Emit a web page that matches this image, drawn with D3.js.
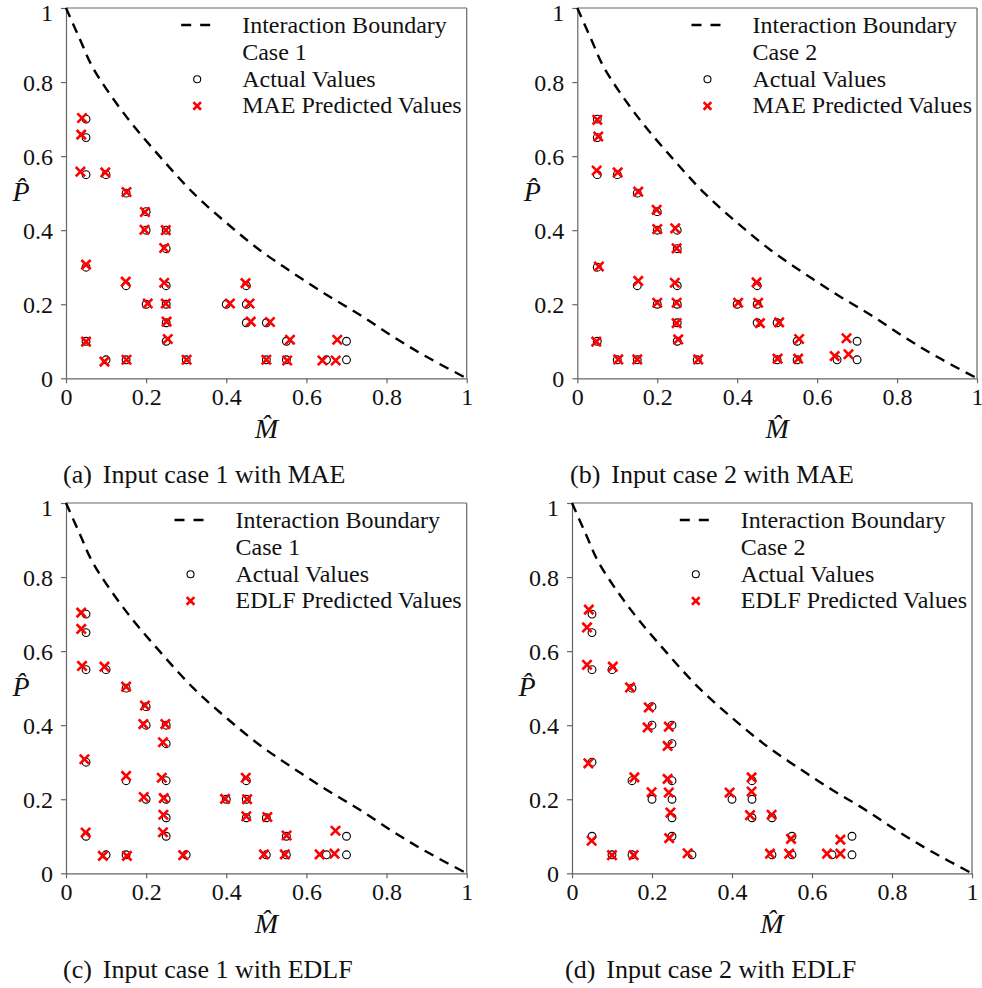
<!DOCTYPE html>
<html>
<head>
<meta charset="utf-8">
<script src="https://cdn.jsdelivr.net/npm/d3@7"></script>
<style>
  html, body { margin: 0; padding: 0; background: #fff; }
  svg { display: block; }
  svg text { font-family: "Liberation Serif", "Times New Roman", Times, serif !important; fill: #111; }
</style>
</head>
<body>
<svg id="chart" width="982" height="988"></svg>
<script>
// ---------------- data ----------------
const xTicks = [0, 0.2, 0.4, 0.6, 0.8, 1];
const yTicks = [0, 0.2, 0.4, 0.6, 0.8, 1];
const xTickLabels = ["0", "0.2", "0.4", "0.6", "0.8", "1"];
const yTickLabels = ["0", "0.2", "0.4", "0.6", "0.8", "1"];

// interaction boundary
const boundaryM = [0, 0.035, 0.068, 0.151, 0.235, 0.318, 0.401, 0.484, 0.567, 0.651, 0.734, 0.817, 0.900, 1];
const boundaryP = [1, 0.915, 0.837, 0.706, 0.598, 0.500, 0.419, 0.346, 0.284, 0.225, 0.171, 0.112, 0.058, 0];

// actual values (same for both input cases)
const actualM = [0.05,0.05,0.05,0.10,0.15,0.20,0.20,0.25,0.25,0.05,0.15,0.25,0.45,0.20,0.25,0.40,0.45,0.25,0.45,0.50,0.05,0.25,0.55,0.70,0.10,0.15,0.30,0.50,0.55,0.65,0.70];
const actualP = [0.70,0.65,0.55,0.55,0.50,0.45,0.40,0.40,0.35,0.30,0.25,0.25,0.25,0.20,0.20,0.20,0.20,0.15,0.15,0.15,0.10,0.10,0.10,0.10,0.05,0.05,0.05,0.05,0.05,0.05,0.05];

// (a) case 1, MAE predicted
const maeCase1M = [0.040,0.038,0.036,0.098,0.151,0.197,0.196,0.249,0.245,0.050,0.149,0.245,0.448,0.204,0.249,0.409,0.458,0.251,0.461,0.509,0.050,0.254,0.559,0.677,0.096,0.151,0.301,0.500,0.552,0.640,0.673];
const maeCase1P = [0.703,0.658,0.558,0.556,0.503,0.449,0.401,0.400,0.352,0.307,0.261,0.258,0.257,0.202,0.202,0.202,0.202,0.153,0.153,0.152,0.099,0.106,0.104,0.104,0.045,0.050,0.050,0.050,0.048,0.048,0.048];

// (b) case 2, MAE predicted
const maeCase2M = [0.050,0.0525,0.0485,0.101,0.1525,0.1985,0.200,0.245,0.2485,0.054,0.1525,0.244,0.4485,0.200,0.2485,0.4025,0.4525,0.2485,0.457,0.505,0.0475,0.2525,0.555,0.6735,0.1025,0.150,0.3025,0.501,0.5525,0.644,0.6785];
const maeCase2P = [0.698,0.653,0.561,0.556,0.504,0.455,0.403,0.405,0.351,0.302,0.263,0.258,0.259,0.204,0.204,0.204,0.204,0.149,0.149,0.151,0.099,0.105,0.106,0.108,0.051,0.051,0.051,0.053,0.053,0.060,0.065];

// (c) case 1, EDLF predicted
const edlfCase1M = [0.038,0.038,0.040,0.096,0.150,0.197,0.193,0.248,0.242,0.046,0.150,0.239,0.4485,0.194,0.244,0.397,0.452,0.243,0.450,0.5025,0.049,0.242,0.5505,0.6725,0.092,0.152,0.2925,0.494,0.546,0.633,0.670];
const edlfCase1P = [0.704,0.660,0.560,0.558,0.504,0.453,0.403,0.403,0.354,0.308,0.263,0.258,0.258,0.206,0.203,0.201,0.200,0.158,0.154,0.152,0.110,0.111,0.102,0.115,0.047,0.047,0.049,0.051,0.051,0.051,0.053];

// (d) case 2, EDLF predicted
const edlfCase2M = [0.042,0.0375,0.0375,0.102,0.145,0.192,0.189,0.242,0.239,0.041,0.156,0.239,0.449,0.199,0.242,0.394,0.449,0.246,0.445,0.499,0.049,0.243,0.5475,0.671,0.100,0.154,0.289,0.495,0.543,0.6375,0.671];
const edlfCase2P = [0.712,0.664,0.563,0.558,0.502,0.448,0.394,0.396,0.344,0.297,0.259,0.255,0.259,0.219,0.218,0.218,0.221,0.164,0.157,0.158,0.088,0.095,0.093,0.091,0.049,0.049,0.054,0.053,0.053,0.053,0.053];

const legendBoundary = "Interaction Boundary";
const legendActual = "Actual Values";
const caseLabels = ["Case 1", "Case 2", "Case 1", "Case 2"];
const predLabels = ["MAE Predicted Values", "MAE Predicted Values", "EDLF Predicted Values", "EDLF Predicted Values"];
const captionTags = ["(a)", "(b)", "(c)", "(d)"];
const captionTexts = ["Input case 1 with MAE", "Input case 2 with MAE", "Input case 1 with EDLF", "Input case 2 with EDLF"];
const xLabel = "M\u0302";
const yLabel = "P\u0302";
const predM = [maeCase1M, maeCase2M, edlfCase1M, edlfCase2M];
const predP = [maeCase1P, maeCase2P, edlfCase1P, edlfCase2P];

// ---------------- layout ----------------
const panels = [
  { x: [66, 466.7], y: [378.3, 8],   capX: 63,  capY: 483 },
  { x: [577.3, 977], y: [378.3, 8],  capX: 570, capY: 483 },
  { x: [66, 466.7], y: [873.3, 503], capX: 63,  capY: 978 },
  { x: [572, 972], y: [873.3, 503],  capX: 565, capY: 978 }
];

const FONT = "'Liberation Serif', 'Times New Roman', Times, serif";
const svg = d3.select("#chart");
const axisColor = "#666";

panels.forEach((p, i) => {
  const xs = d3.scaleLinear().domain([0, 1]).range(p.x);
  const ys = d3.scaleLinear().domain([0, 1]).range(p.y);
  const g = svg.append("g");

  // frame (top & right)
  g.append("line").attr("x1", p.x[0]).attr("x2", p.x[1]).attr("y1", p.y[1]).attr("y2", p.y[1])
    .attr("stroke", axisColor).attr("stroke-width", 1.2);
  g.append("line").attr("x1", p.x[1]).attr("x2", p.x[1]).attr("y1", p.y[0]).attr("y2", p.y[1])
    .attr("stroke", axisColor).attr("stroke-width", 1.2);

  // axes
  const xAxis = d3.axisBottom(xs).tickValues(xTicks).tickFormat((d, k) => xTickLabels[k]).tickSizeInner(5).tickSizeOuter(0).tickPadding(4);
  const yAxis = d3.axisLeft(ys).tickValues(yTicks).tickFormat((d, k) => yTickLabels[k]).tickSizeInner(5).tickSizeOuter(0).tickPadding(8);
  const gx = g.append("g").attr("transform", `translate(0,${p.y[0]})`).call(xAxis);
  const gy = g.append("g").attr("transform", `translate(${p.x[0]},0)`).call(yAxis);
  [gx, gy].forEach(a => {
    a.attr("font-family", FONT).attr("font-size", 24);
    a.select(".domain").attr("stroke", axisColor).attr("stroke-width", 1.2);
    a.selectAll(".tick line").attr("stroke", axisColor).attr("stroke-width", 1.2);
    a.selectAll(".tick text").style("font-family", FONT).style("font-size", "24px").attr("fill", "#111");
  });
  gx.selectAll(".tick text").attr("dy", "0.74em");
  gy.selectAll(".tick text").attr("dy", (d) => d === 1 ? "0.52em" : "0.36em");

  // boundary
  const line = d3.line().x((d, k) => xs(boundaryM[k])).y((d, k) => ys(boundaryP[k])).curve(d3.curveCatmullRom.alpha(0.5));
  g.append("path").datum(boundaryM).attr("d", line)
    .attr("fill", "none").attr("stroke", "#000").attr("stroke-width", 2.4)
    .attr("stroke-dasharray", "10,7");

  // actual values
  g.append("g").selectAll("circle").data(actualM).join("circle")
    .attr("cx", (d, k) => xs(actualM[k])).attr("cy", (d, k) => ys(actualP[k]))
    .attr("r", 3.9).attr("fill", "none").attr("stroke", "#000").attr("stroke-width", 1.1);

  // predicted values
  const xSym = d3.symbol(d3.symbolX).size(58);
  g.append("g").selectAll("path").data(predM[i]).join("path")
    .attr("transform", (d, k) => `translate(${xs(predM[i][k])},${ys(predP[i][k])})`)
    .attr("d", xSym).attr("fill", "none").attr("stroke", "#ff0000").attr("stroke-width", 2.6);

  // legend
  const top = p.y[1];
  const lg = g.append("g");
  const labels = [legendBoundary, caseLabels[i], legendActual, predLabels[i]];
  const rowY = [25, 52, 78.7, 105.4];
  const texts = lg.selectAll("text").data(labels).join("text")
    .attr("y", (d, k) => top + rowY[k]).style("font-family", FONT).style("font-size", "24px").text(d => d);
  let maxW = 0;
  texts.each(function () { maxW = Math.max(maxW, this.getComputedTextLength()); });
  const tx = p.x[1] - 5 - maxW;
  texts.attr("x", tx);
  lg.append("line").attr("x1", tx - 61).attr("x2", tx - 32).attr("y1", top + rowY[0] - 8).attr("y2", top + rowY[0] - 8)
    .attr("stroke", "#000").attr("stroke-width", 2.4).attr("stroke-dasharray", "10,9");
  lg.append("circle").attr("cx", tx - 45).attr("cy", top + rowY[2] - 7.5).attr("r", 3.5)
    .attr("fill", "none").attr("stroke", "#000").attr("stroke-width", 1.1);
  lg.append("path").attr("transform", `translate(${tx - 45},${top + rowY[3] - 7.5})`).attr("d", d3.symbol(d3.symbolX).size(40))
    .attr("fill", "none").attr("stroke", "#ff0000").attr("stroke-width", 2.6);

  // axis labels (M-hat, P-hat)
  const mx = (p.x[0] + p.x[1]) / 2;
  g.append("text").attr("x", mx).attr("y", p.y[0] + 60).attr("text-anchor", "middle")
    .style("font-family", FONT).style("font-size", "28px").style("font-style", "italic").text(xLabel);
  g.append("text").attr("x", p.x[0] - 45).attr("y", (p.y[0] + p.y[1]) / 2 + 8).attr("text-anchor", "middle")
    .style("font-family", FONT).style("font-size", "28px").style("font-style", "italic").text(yLabel);

  // caption
  const cap = g.append("text").attr("x", p.capX).attr("y", p.capY).style("font-family", FONT).style("font-size", "26px");
  cap.append("tspan").text(captionTags[i]);
  cap.append("tspan").attr("dx", 11).text(captionTexts[i]);
});
</script>
</body>
</html>
